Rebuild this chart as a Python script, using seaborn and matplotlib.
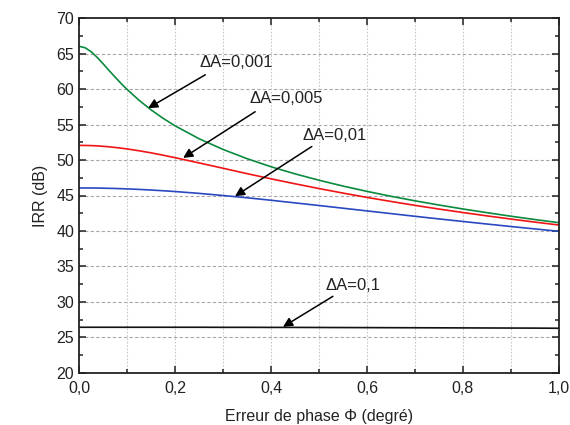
import numpy as np
import pandas as pd
import matplotlib
matplotlib.use("Agg")
import matplotlib.pyplot as plt
import seaborn as sns
from matplotlib.ticker import MultipleLocator, FuncFormatter

# Phase error (degrees) and IRR (dB)
phase = [0, 0.0125, 0.025, 0.0375, 0.05, 0.0625, 0.075, 0.0875, 0.1, 0.125, 0.15,
         0.175, 0.2, 0.25, 0.3, 0.35, 0.4, 0.45, 0.5, 0.55, 0.6, 0.65, 0.7, 0.75,
         0.8, 0.85, 0.9, 0.95, 1.0]
irr_0001 = [66.02, 65.82, 65.27, 64.48, 63.57, 62.62, 61.69, 60.79, 59.95, 58.42,
            57.07, 55.88, 54.82, 53.00, 51.49, 50.19, 49.05, 48.05, 47.15, 46.33,
            45.58, 44.89, 44.25, 43.66, 43.10, 42.58, 42.08, 41.61, 41.17]
irr_0005 = [52.06, 52.05, 52.03, 51.99, 51.93, 51.86, 51.77, 51.67, 51.56, 51.30,
            51.01, 50.68, 50.33, 49.59, 48.84, 48.08, 47.35, 46.65, 45.98, 45.34,
            44.73, 44.16, 43.61, 43.09, 42.60, 42.13, 41.68, 41.25, 40.84]
irr_001 = [46.06, 46.06, 46.06, 46.05, 46.03, 46.01, 45.99, 45.96, 45.93, 45.86,
           45.77, 45.67, 45.56, 45.30, 45.00, 44.68, 44.33, 43.96, 43.59, 43.21,
           42.83, 42.45, 42.07, 41.70, 41.34, 40.98, 40.63, 40.29, 39.96]
irr_01 = [26.44, 26.44, 26.44, 26.44, 26.44, 26.44, 26.44, 26.44, 26.44, 26.44,
          26.44, 26.44, 26.44, 26.44, 26.43, 26.43, 26.42, 26.42, 26.41, 26.40,
          26.39, 26.38, 26.37, 26.36, 26.35, 26.34, 26.33, 26.32, 26.30]

series = ["0,001", "0,005", "0,01", "0,1"]
colors = ["#0a8a3c", "#f01414", "#2a48c0", "#111111"]

df = pd.concat([
    pd.DataFrame({"phase": phase, "irr": vals, "serie": name})
    for name, vals in zip(series, [irr_0001, irr_0005, irr_001, irr_01])
])

sns.set_style("ticks")
plt.rcParams["font.family"] = ["Liberation Sans", "DejaVu Sans"]

fig = plt.figure(figsize=(5.7, 4.25), dpi=100)
ax = fig.add_axes([0.1386, 0.1224, 0.8421, 0.8352])

sns.lineplot(data=df, x="phase", y="irr", hue="serie", palette=colors,
             linewidth=1.2, legend=False, ax=ax)

ax.set_xlim(0, 1.0)
ax.set_ylim(20, 70)
ax.xaxis.set_major_locator(MultipleLocator(0.2))
ax.xaxis.set_minor_locator(MultipleLocator(0.1))
ax.yaxis.set_major_locator(MultipleLocator(5))
ax.yaxis.set_minor_locator(MultipleLocator(2.5))
ax.xaxis.set_major_formatter(FuncFormatter(lambda v, p: f"{v:.1f}".replace(".", ",")))

ax.tick_params(which="both", direction="in", top=True, right=True, labelsize=11.5,
               color="#222222", width=1.1, labelcolor="#222222")
ax.tick_params(which="major", length=5)
ax.tick_params(which="minor", length=3)
ax.tick_params(axis="x", pad=6)
for s in ax.spines.values():
    s.set_linewidth(1.3)
    s.set_color("#222222")

# grid: dashed horizontal at major y, dotted vertical every 0.1
ax.grid(False)
for yv in range(25, 70, 5):
    ax.axhline(yv, color="#a8a8a8", lw=0.8, ls=(0, (3, 2)), zorder=0)
for xv in np.arange(0.1, 1.0, 0.1):
    ax.axvline(xv, color="#c8c8c8", lw=0.8, ls=(0, (1.5, 1.5)), zorder=0)

ax.set_xlabel("Erreur de phase Φ (degré)", fontsize=11.5, labelpad=9, color="#222222")
ax.set_ylabel("IRR (dB)", fontsize=11.5, labelpad=6, color="#222222")

arrow = dict(arrowstyle="-|>", color="black", lw=1.1, mutation_scale=14,
             shrinkA=0, shrinkB=0)
notes = [
    ("ΔA=0,001", (0.144, 57.3), (0.263, 62.0), (0.252, 63.8)),
    ("ΔA=0,005", (0.217, 50.3), (0.367, 56.8), (0.356, 58.6)),
    ("ΔA=0,01", (0.325, 44.9), (0.485, 51.9), (0.465, 53.5)),
    ("ΔA=0,1", (0.425, 26.5), (0.529, 30.8), (0.5125, 32.3)),
]
for label, head, tail, txt in notes:
    ax.annotate("", xy=head, xytext=tail, arrowprops=arrow)
    ax.text(txt[0], txt[1], label, fontsize=12, ha="left", va="center", color="#222222")

fig.savefig("out.png", dpi=100)
